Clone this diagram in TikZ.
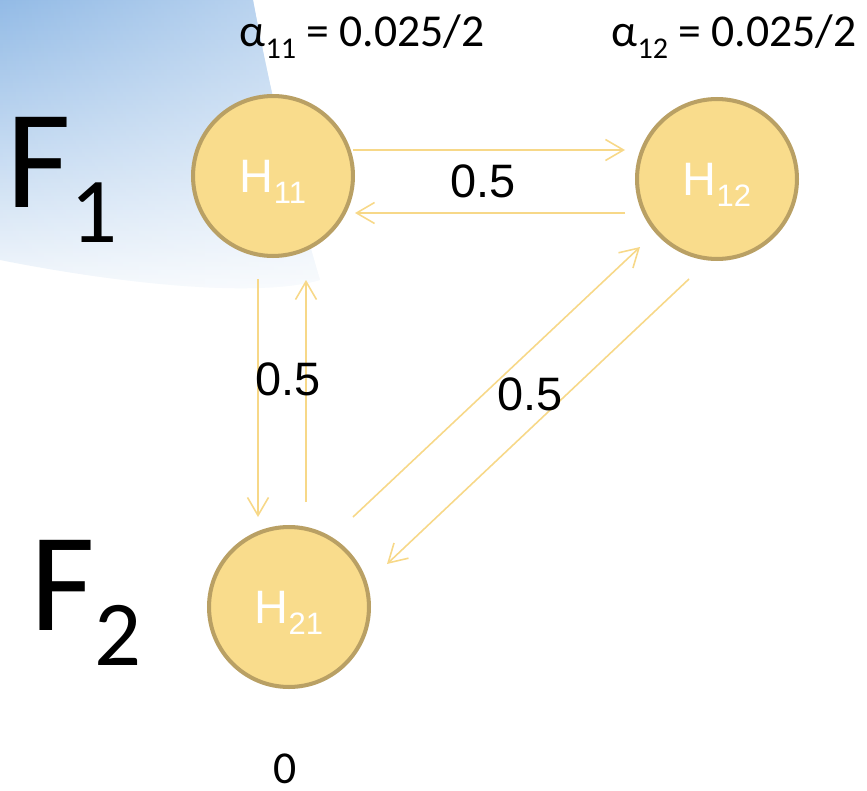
\documentclass[tikz,border=0pt]{standalone}
\usepackage{fontspec}
\usepackage{graphicx}
\usepackage{tikz}
\usetikzlibrary{arrows.meta,calc,fadings}
\newfontfamily\calibfont{Carlito}
\newfontfamily\arialfont{Liberation Sans}
\definecolor{statefill}{HTML}{F9DC8C}
\definecolor{stateline}{HTML}{B9A064}
\definecolor{linkline}{HTML}{F7D888}
\definecolor{skyblue}{HTML}{78AAE0}
\newcommand\idx[1]{\raisebox{-0.25em}{\scalebox{0.66}{#1}}}

\begin{document}
\begin{tikzpicture}[x=0.02cm,y=-0.02cm,
  state/.style={circle,draw=stateline,fill=statefill,line width=2.3pt,
    minimum size=3.2cm,inner sep=0pt,text=white,text depth=0pt,
    font=\arialfont\fontsize{26.7}{32}\selectfont},
  link/.style={-{Straight Barb[length=3.6mm,width=4.2mm]},draw=linkline,line width=0.9pt},
  prob/.style={font=\arialfont\fontsize{26.7}{32}\selectfont,anchor=base,inner sep=0pt},
  level/.style={font=\calibfont\fontsize{26}{31}\selectfont,anchor=base,inner sep=0pt},
  family/.style={font=\calibfont\fontsize{80}{96}\selectfont,anchor=base west,inner sep=0pt}
]
\useasboundingbox (0,0) rectangle (867,791);
\begin{scope}
  \clip (0,0) -- (253,0) .. controls (266,70) and (290,180) .. (320,280)
    .. controls (250,300) and (100,280) .. (0,260) -- cycle;
  \shade[top color=skyblue,middle color=skyblue!30,bottom color=white]
    (-10,-50) rectangle (340,320);
  \fill[white,opacity=0.5,path fading=west] (-60,-10) rectangle (340,320);
\end{scope}

\node[state] (h11) at (273,176) {H\idx{11}};
\node[state] (h12) at (717,179) {H\idx{12}};
\node[state] (h21) at (289,607) {H\idx{21}};

\node[family] (f1) at (6,207) {F\idx{1}};
\node[family] (f2) at (30,630) {F\idx{2}};

\node[level] (a11) at (362,47) {α\idx{11} = 0.025/2};
\node[level] (a12) at (734,47) {α\idx{12} = 0.025/2};
\node[level] (a21) at (285,783) {0};

\draw[link] ($(h11)+(80,-26)$) -- ($(h12)+(-92,-29)$);
\draw[link] ($(h12)+(-92,34)$) -- ($(h11)+(82,37)$);
\draw[link] ($(h11)+(-15,103)$) -- ($(h21)+(-31,-90)$);
\draw[link] ($(h21)+(17,-105)$) -- ($(h11)+(33,104)$);
\draw[link] ($(h21)+(64,-90)$) -- ($(h12)+(-77,68)$);
\draw[link] ($(h12)+(-28,100)$) -- ($(h21)+(98,-43)$);

\node[prob] (p1) at (483,197) {0.5};
\node[prob] (p2) at (288,395) {0.5};
\node[prob] (p3) at (530,410) {0.5};
\end{tikzpicture}
\end{document}
